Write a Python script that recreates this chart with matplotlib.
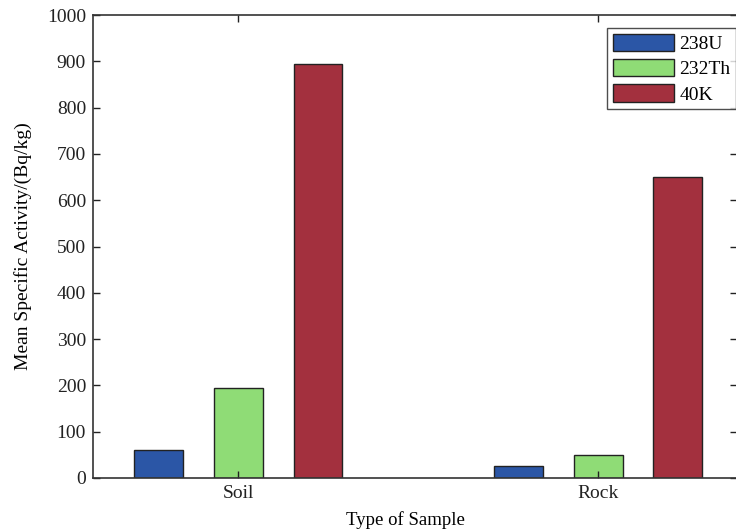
import numpy as np
import matplotlib
matplotlib.use("Agg")
import matplotlib.pyplot as plt

samples = ["Soil", "Rock"]
nuclides = ["238U", "232Th", "40K"]
u238 = [61, 25]
th232 = [195, 50]
k40 = [895, 650]
colors = ["#2b56a6", "#8fdc76", "#a3303e"]

plt.rcParams['font.family'] = ['Liberation Serif', 'DejaVu Serif']

fig = plt.figure(figsize=(7.36, 5.31), dpi=100)
ax = fig.add_axes([93/736, 53/531, 644/736, 463/531])

x = np.arange(1, len(samples) + 1)
offset = 0.222
width = 0.136
for i, (vals, name) in enumerate(zip([u238, th232, k40], nuclides)):
	ax.bar(x + (i - 1)*offset, vals, width, color=colors[i], edgecolor='#222222', linewidth=1.0, label=name)

ax.set_xlim(0.597, 2.386)
ax.set_ylim(0, 1000)
ax.set_yticks(np.arange(0, 1001, 100))
ax.set_xticks(x)
ax.set_xticklabels(samples)
ax.tick_params(axis='both', direction='in', length=5, width=1.0, labelsize=14, top=True, right=True, colors='#222222', pad=5)
for s in ax.spines.values():
	s.set_linewidth(1.2)
	s.set_color('#333333')

ax.set_ylabel("Mean Specific Activity/(Bq/kg)", fontsize=14)
ax.set_xlabel("Type of Sample", fontsize=13.5)
ax.yaxis.set_label_coords(-0.095, 0.5)
ax.xaxis.set_label_coords(0.485, -0.072)

leg = ax.legend(loc='upper right', bbox_to_anchor=(0.999, 0.972), fontsize=14, frameon=True, fancybox=False,
	edgecolor='#222222', handlelength=3.1, handleheight=1.0, labelspacing=0.3, handletextpad=0.3, borderpad=0.3, borderaxespad=0)
leg.get_frame().set_linewidth(1.0)

fig.savefig("out.png", dpi=100)
